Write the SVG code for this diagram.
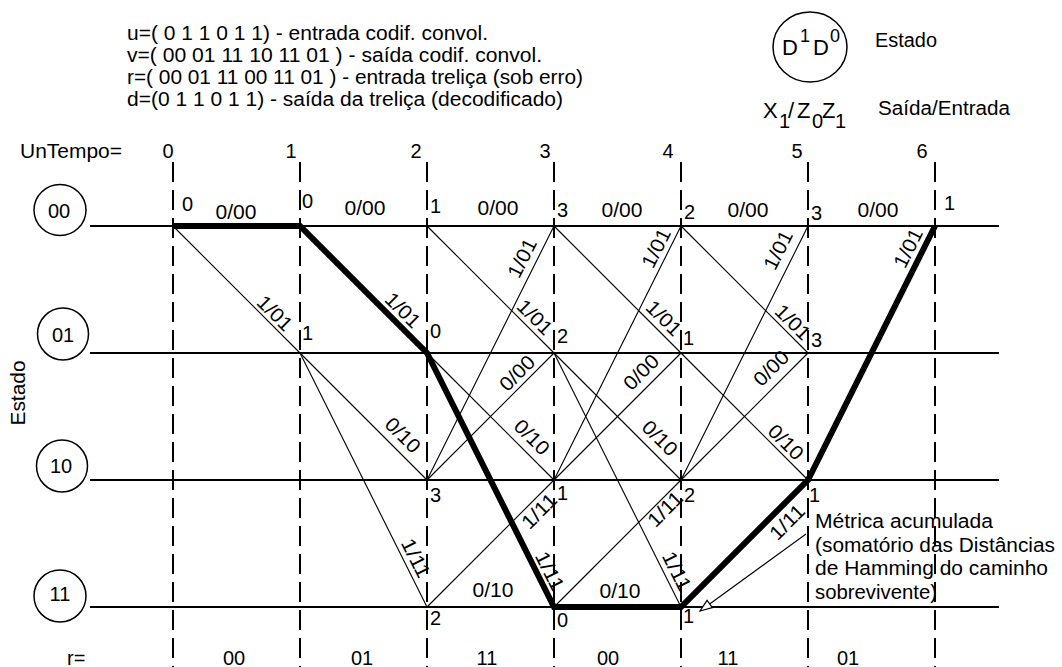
<svg xmlns="http://www.w3.org/2000/svg" width="1062" height="667" viewBox="0 0 1062 667">
<defs>
<style>
.t{font-family:"Liberation Sans",Arial,Helvetica,sans-serif;font-size:20px;fill:#000}
.lb{text-anchor:middle}
.row{stroke:#000;stroke-width:2;fill:none}
.dash{stroke:#000;stroke-width:2;stroke-dasharray:20 8;fill:none}
.thin{stroke:#000;stroke-width:1.1;fill:none}
.thick{stroke:#000;stroke-width:6;fill:none;stroke-linejoin:miter}
.circ{stroke:#000;stroke-width:1.5;fill:none}
</style>
<marker id="oarrow" markerWidth="16" markerHeight="12" refX="13" refY="6" orient="auto" markerUnits="userSpaceOnUse">
<path d="M13,6 L1,1.5 L1,10.5 Z" fill="#fff" stroke="#000" stroke-width="1.2"/>
</marker>
</defs>
<rect width="1062" height="667" fill="#fff"/>

<g id="header">
<text class="t" x="127" y="40" textLength="361" lengthAdjust="spacingAndGlyphs">u=( 0 1 1 0 1 1) - entrada codif. convol.</text>
<text class="t" x="127" y="62" textLength="415" lengthAdjust="spacingAndGlyphs">v=( 00 01 11 10 11 01 ) - saída codif. convol.</text>
<text class="t" x="127" y="84" textLength="456" lengthAdjust="spacingAndGlyphs">r=( 00 01 11 00 11 01 ) - entrada treliça (sob erro)</text>
<text class="t" x="127" y="106" textLength="436" lengthAdjust="spacingAndGlyphs">d=(0 1 1 0 1 1) - saída da treliça (decodificado)</text>
</g>

<g id="legend">
<ellipse class="circ" cx="810" cy="47" rx="37" ry="35"/>
<text class="t" x="782" y="55" style="font-size:22px">D</text>
<text class="t" x="813" y="55" style="font-size:22px">D</text>
<text class="t" x="800" y="42" style="font-size:18px">1</text>
<text class="t" x="830" y="42" style="font-size:18px">0</text>
<text class="t" x="875" y="47" textLength="62" lengthAdjust="spacingAndGlyphs">Estado</text>
<text class="t" style="font-size:22px"><tspan x="763" y="118">X</tspan><tspan x="788" y="118">/</tspan><tspan x="797" y="118">Z</tspan><tspan x="822" y="118">Z</tspan></text>
<text class="t"><tspan x="779" y="128">1</tspan><tspan x="812" y="128">0</tspan><tspan x="835" y="128">1</tspan></text>
<text class="t" x="878" y="115" textLength="132" lengthAdjust="spacingAndGlyphs">Saída/Entrada</text>
</g>

<g id="time-axis">
<text class="t" x="20" y="158" textLength="102" lengthAdjust="spacingAndGlyphs">UnTempo=</text>
<text class="t lb" x="168" y="158">0</text>
<text class="t lb" x="291" y="158">1</text>
<text class="t lb" x="416" y="158">2</text>
<text class="t lb" x="545" y="158">3</text>
<text class="t lb" x="668" y="158">4</text>
<text class="t lb" x="797" y="158">5</text>
<text class="t lb" x="922" y="158">6</text>
</g>

<g id="axis-label">
<text class="t lb" transform="translate(25,393) rotate(-90)" x="0" y="0" textLength="65" lengthAdjust="spacingAndGlyphs">Estado</text>
</g>

<g id="state-00"><ellipse class="circ" cx="60" cy="210" rx="26" ry="25.5"/><text class="t lb" x="59" y="218">00</text></g>
<g id="state-01"><ellipse class="circ" cx="63" cy="334" rx="25.5" ry="26"/><text class="t lb" x="63" y="342">01</text></g>
<g id="state-10"><ellipse class="circ" cx="62" cy="466" rx="25.5" ry="26"/><text class="t lb" x="61" y="473">10</text></g>
<g id="state-11"><ellipse class="circ" cx="60" cy="596" rx="26" ry="26"/><text class="t lb" x="60" y="601">11</text></g>

<g id="grid">
<line class="row" x1="90" y1="226" x2="999" y2="226"/>
<line class="row" x1="90" y1="353" x2="999" y2="353"/>
<line class="row" x1="90" y1="480" x2="999" y2="480"/>
<line class="row" x1="90" y1="607" x2="999" y2="607"/>
<line class="dash" x1="173" y1="162" x2="173" y2="667"/>
<line class="dash" x1="300" y1="162" x2="300" y2="667"/>
<line class="dash" x1="427" y1="162" x2="427" y2="667"/>
<line class="dash" x1="554" y1="162" x2="554" y2="667"/>
<line class="dash" x1="681" y1="162" x2="681" y2="667"/>
<line class="dash" x1="808" y1="162" x2="808" y2="667"/>
<line class="dash" x1="935" y1="162" x2="935" y2="667"/>
</g>

<g id="connectors">
<path class="thin" d="M173,226 L300,353"/>
<path class="thin" d="M300,353 L427,480"/>
<path class="thin" d="M300,353 L427,607"/>
<path class="thin" d="M427,226 L554,353"/>
<path class="thin" d="M427,480 L554,226"/>
<path class="thin" d="M427,480 L554,353"/>
<path class="thin" d="M427,353 L554,480"/>
<path class="thin" d="M427,607 L554,480"/>
<path class="thin" d="M554,226 L681,353"/>
<path class="thin" d="M554,480 L681,226"/>
<path class="thin" d="M554,480 L681,353"/>
<path class="thin" d="M554,353 L681,480"/>
<path class="thin" d="M554,353 L681,607"/>
<path class="thin" d="M554,607 L681,480"/>
<path class="thin" d="M681,226 L808,353"/>
<path class="thin" d="M681,480 L808,226"/>
<path class="thin" d="M681,480 L808,353"/>
<path class="thin" d="M681,353 L808,480"/>
<path class="thick" d="M173,226 L300,226 L427,353 L554,607 L681,607 L808,480 L935,226"/>
<path class="thin" d="M806,534 L700,611" marker-end="url(#oarrow)"/>
</g>

<g id="edge-labels">
<text class="t lb" x="236" y="219" textLength="41" lengthAdjust="spacingAndGlyphs">0/00</text>
<text class="t lb" x="365" y="215" textLength="41" lengthAdjust="spacingAndGlyphs">0/00</text>
<text class="t lb" x="498" y="215" textLength="41" lengthAdjust="spacingAndGlyphs">0/00</text>
<text class="t lb" x="622" y="217" textLength="41" lengthAdjust="spacingAndGlyphs">0/00</text>
<text class="t lb" x="748" y="217" textLength="41" lengthAdjust="spacingAndGlyphs">0/00</text>
<text class="t lb" x="878" y="217" textLength="41" lengthAdjust="spacingAndGlyphs">0/00</text>
<text class="t lb" x="493" y="597" textLength="41" lengthAdjust="spacingAndGlyphs">0/10</text>
<text class="t lb" x="620" y="598" textLength="41" lengthAdjust="spacingAndGlyphs">0/10</text>

<text class="t lb" transform="translate(275,313) rotate(45)" y="7" textLength="41" lengthAdjust="spacingAndGlyphs">1/01</text>
<text class="t lb" transform="translate(403,310) rotate(45)" y="7" textLength="41" lengthAdjust="spacingAndGlyphs">1/01</text>
<text class="t lb" transform="translate(535,317) rotate(45)" y="7" textLength="41" lengthAdjust="spacingAndGlyphs">1/01</text>
<text class="t lb" transform="translate(664,318) rotate(45)" y="7" textLength="41" lengthAdjust="spacingAndGlyphs">1/01</text>
<text class="t lb" transform="translate(793,322) rotate(45)" y="7" textLength="41" lengthAdjust="spacingAndGlyphs">1/01</text>

<text class="t lb" transform="translate(403,435) rotate(45)" y="7" textLength="41" lengthAdjust="spacingAndGlyphs">0/10</text>
<text class="t lb" transform="translate(532,437) rotate(45)" y="7" textLength="41" lengthAdjust="spacingAndGlyphs">0/10</text>
<text class="t lb" transform="translate(660,438) rotate(45)" y="7" textLength="41" lengthAdjust="spacingAndGlyphs">0/10</text>
<text class="t lb" transform="translate(786,442) rotate(45)" y="7" textLength="41" lengthAdjust="spacingAndGlyphs">0/10</text>

<text class="t lb" transform="translate(522,258) rotate(-63.43)" y="7" textLength="41" lengthAdjust="spacingAndGlyphs">1/01</text>
<text class="t lb" transform="translate(656,248) rotate(-63.43)" y="7" textLength="41" lengthAdjust="spacingAndGlyphs">1/01</text>
<text class="t lb" transform="translate(778,250) rotate(-63.43)" y="7" textLength="41" lengthAdjust="spacingAndGlyphs">1/01</text>
<text class="t lb" transform="translate(908,248) rotate(-63.43)" y="7" textLength="41" lengthAdjust="spacingAndGlyphs">1/01</text>

<text class="t lb" transform="translate(517,373) rotate(-45)" y="7" textLength="41" lengthAdjust="spacingAndGlyphs">0/00</text>
<text class="t lb" transform="translate(641,372) rotate(-45)" y="7" textLength="41" lengthAdjust="spacingAndGlyphs">0/00</text>
<text class="t lb" transform="translate(771,368) rotate(-45)" y="7" textLength="41" lengthAdjust="spacingAndGlyphs">0/00</text>

<text class="t lb" transform="translate(416,558) rotate(63.43)" y="7" textLength="41" lengthAdjust="spacingAndGlyphs">1/11</text>
<text class="t lb" transform="translate(550,571) rotate(63.43)" y="7" textLength="41" lengthAdjust="spacingAndGlyphs">1/11</text>
<text class="t lb" transform="translate(677,571) rotate(63.43)" y="7" textLength="41" lengthAdjust="spacingAndGlyphs">1/11</text>

<text class="t lb" transform="translate(539,511) rotate(-45)" y="7" textLength="41" lengthAdjust="spacingAndGlyphs">1/11</text>
<text class="t lb" transform="translate(665,509) rotate(-45)" y="7" textLength="41" lengthAdjust="spacingAndGlyphs">1/11</text>
<text class="t lb" transform="translate(787,522) rotate(-45)" y="7" textLength="41" lengthAdjust="spacingAndGlyphs">1/11</text>
</g>

<g id="metrics">
<text class="t" x="182" y="211">0</text>
<text class="t" x="302" y="208">0</text>
<text class="t" x="302" y="340">1</text>
<text class="t" x="430" y="213">1</text>
<text class="t" x="430" y="338">0</text>
<text class="t" x="430" y="502">3</text>
<text class="t" x="430" y="625">2</text>
<text class="t" x="557" y="217">3</text>
<text class="t" x="557" y="343">2</text>
<text class="t" x="557" y="500">1</text>
<text class="t" x="557" y="627">0</text>
<text class="t" x="684" y="219">2</text>
<text class="t" x="683" y="345">1</text>
<text class="t" x="684" y="502">2</text>
<text class="t" x="683" y="623">1</text>
<text class="t" x="811" y="220">3</text>
<text class="t" x="811" y="347">3</text>
<text class="t" x="809" y="502">1</text>
<text class="t" x="944" y="210">1</text>
</g>

<g id="annotation">
<text class="t" x="815" y="528" textLength="178" lengthAdjust="spacingAndGlyphs">Métrica acumulada</text>
<text class="t" x="815" y="551.5" textLength="240" lengthAdjust="spacingAndGlyphs">(somatório das Distâncias</text>
<text class="t" x="815" y="575" textLength="233" lengthAdjust="spacingAndGlyphs">de Hamming do caminho</text>
<text class="t" x="815" y="598.5" textLength="122" lengthAdjust="spacingAndGlyphs">sobrevivente)</text>
</g>

<g id="received">
<text class="t" x="67" y="665">r=</text>
<text class="t lb" x="234" y="665">00</text>
<text class="t lb" x="362" y="665">01</text>
<text class="t lb" x="487" y="665">11</text>
<text class="t lb" x="608" y="665">00</text>
<text class="t lb" x="728" y="665">11</text>
<text class="t lb" x="848" y="665">01</text>
</g>
</svg>
